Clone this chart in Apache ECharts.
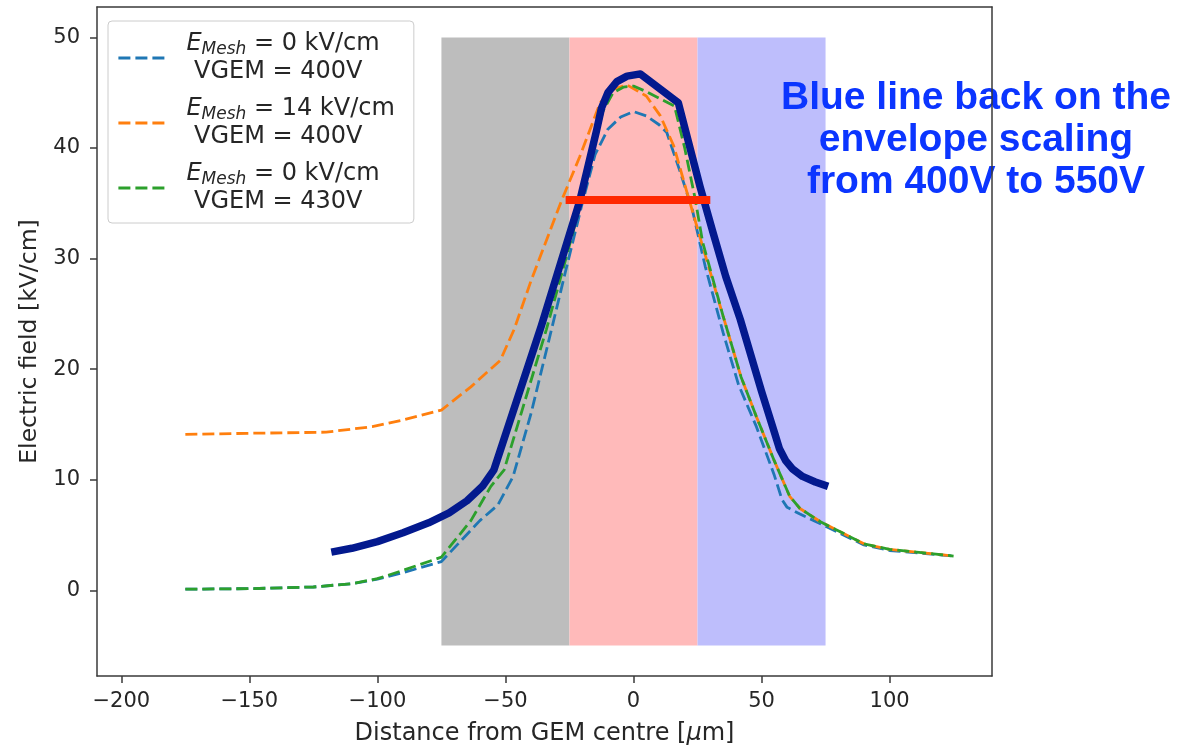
<!DOCTYPE html>
<html>
<head>
<meta charset="utf-8">
<script src="https://cdn.jsdelivr.net/npm/echarts@6/dist/echarts.min.js"></script>
<style>
  html, body { margin: 0; padding: 0; background: #fff; }
  #chart { width: 1194px; height: 745px; }
</style>
</head>
<body>
<div id="chart"></div>
<script>
// Field profiles along the GEM axis (distance in µm, field in kV/cm)
const xBlue = [-175,-150,-125,-110,-100,-90,-75,-60,-53,-47,-40,-32,-27,-20,-15,-10,-5,0,5,10,13,18,23,28,35,41,48,55,58,60,65,75,90,100,125];
const yBlue = [0.1,0.15,0.3,0.6,1.0,1.6,2.6,6.3,7.7,10.3,16,23.6,28.4,35,39.4,41.7,42.8,43.3,42.9,42.1,41.4,38,34.4,29.3,23.3,18.6,14.8,10.4,8.2,7.5,6.9,5.8,4.1,3.6,3.1];

const xOrange = [-175,-150,-120,-102,-90,-75,-63.5,-52,-46.6,-40,-28,-21,-13,-8,-2.5,5,10.5,15.7,21,27.4,35,42,48,55,61,65,73,90,100,125];
const yOrange = [14.1,14.2,14.3,14.8,15.4,16.3,18.4,20.8,23.6,28,35.3,39.2,44.1,45.3,45.7,44.7,42.9,40.2,35.9,30.8,24.8,19.3,15.7,11.7,8.5,7.4,6.2,4.2,3.7,3.1];

const xGreen = [-175,-150,-125,-110,-100,-90,-75,-63.5,-55.7,-50.5,-42.7,-34,-27,-20,-15,-12,-8,-4,0,5,10,16,20,24,27,35,42,48,55,61,65,73,90,100,125];
const yGreen = [0.1,0.15,0.3,0.6,1.05,1.8,3.0,6.3,9.4,10.9,16.9,23.6,29.5,35.5,40.5,43.3,45,45.5,45.6,45.1,44.5,43.8,40,35.5,31.5,24.8,19.3,15.7,11.7,8.5,7.4,6.2,4.2,3.7,3.1];

// Hand-drawn envelope for the scaled profile
const xEnvelope = [-118,-110,-100,-90,-80,-72,-65,-59,-54.5,-36,-21,-14.5,-12.5,-10,-6.5,-2.5,2.7,17.5,26,31,36,41.7,50,55,57,59.5,62,66,71,76];
const yEnvelope = [3.45,3.8,4.4,5.2,6.1,7.0,8.1,9.4,10.9,23.9,35.2,41.5,43.6,45.0,46.0,46.5,46.7,44.1,36.5,32.4,28.4,24.5,18,14.3,12.8,11.7,11,10.3,9.8,9.4];

// Reference level line
const xLevel = [-26.5, 30];
const yLevel = [35.3, 35.3];

// Shaded electrode / hole regions
const regionBounds = [[-75, -25], [-25, 25], [25, 75]];
const regionColors = ['#bdbdbd', '#ffbaba', '#bebefc'];
const regionYRange = [-5, 50];

const seriesNames = ['EMesh = 0 kV/cm, VGEM = 400V', 'EMesh = 14 kV/cm, VGEM = 400V', 'EMesh = 0 kV/cm, VGEM = 430V'];
const legendMesh = ['0', '14', '0'];
const legendVgem = ['400V', '400V', '430V'];
const seriesColors = ['#1f77b4', '#ff7f0e', '#2ca02c'];

const xTicks = [-200, -150, -100, -50, 0, 50, 100];
const yTicks = [0, 10, 20, 30, 40, 50];

const annotationLines = ['Blue line back on the', 'envelope scaling', 'from 400V to 550V'];

const zip = (xs, ys) => xs.map((x, i) => [x, ys[i]]);
const fmtMinus = v => (v < 0 ? '\u2212' + Math.abs(v) : String(v));

const FONT = 'DejaVu Sans';
const TXT = '#262626';
const SPINE = '#3a3a3a';

const dashed = (color) => ({ color: color, width: 2.8, type: [12, 5] });

const chart = echarts.init(document.getElementById('chart'), null, { renderer: 'canvas' });

const dataSeries = [[xBlue, yBlue], [xOrange, yOrange], [xGreen, yGreen]].map((xy, i) => ({
  name: seriesNames[i],
  type: 'line',
  data: zip(xy[0], xy[1]),
  symbol: 'none',
  showSymbol: false,
  z: 2,
  color: seriesColors[i],
  lineStyle: dashed(seriesColors[i])
}));

const option = {
  animation: false,
  backgroundColor: '#ffffff',
  textStyle: { fontFamily: FONT },
  grid: { left: 97, right: 202, top: 7, bottom: 69, containLabel: false, outerBoundsMode: 'none' },
  xAxis: [{
    type: 'value',
    min: -209.5, max: 140,
    position: 'bottom',
    name: 'Distance from GEM centre [{i|\u03bc}m]',
    nameLocation: 'middle',
    nameGap: 46,
    nameTextStyle: {
      fontFamily: FONT, fontSize: 24, color: TXT,
      rich: { i: { fontFamily: FONT, fontSize: 24, fontStyle: 'italic', color: TXT } }
    },
    splitLine: { show: false },
    axisLine: { show: true, onZero: false, lineStyle: { color: SPINE, width: 1.5 } },
    axisTick: { show: true, customValues: xTicks, length: 7, lineStyle: { color: SPINE, width: 1.5 } },
    axisLabel: { customValues: xTicks, formatter: fmtMinus, fontFamily: FONT, fontSize: 21, color: TXT, margin: 15 },
    z: 10
  }, {
    type: 'value',
    min: -209.5, max: 140,
    position: 'top',
    splitLine: { show: false },
    axisLine: { show: true, onZero: false, lineStyle: { color: SPINE, width: 1.5 } },
    axisTick: { show: false },
    axisLabel: { show: false },
    z: 10
  }],
  yAxis: [{
    type: 'value',
    min: -7.75, max: 52.75,
    position: 'left',
    name: 'Electric field [kV/cm]',
    nameLocation: 'middle',
    nameGap: 41,
    nameTextStyle: { fontFamily: FONT, fontSize: 23.5, color: TXT },
    splitLine: { show: false },
    axisLine: { show: true, onZero: false, lineStyle: { color: SPINE, width: 1.5 } },
    axisTick: { show: true, customValues: yTicks, length: 7, lineStyle: { color: SPINE, width: 1.5 } },
    axisLabel: { customValues: yTicks, formatter: fmtMinus, fontFamily: FONT, fontSize: 21, color: TXT, margin: 17 },
    z: 10
  }, {
    type: 'value',
    min: -7.75, max: 52.75,
    position: 'right',
    splitLine: { show: false },
    axisLine: { show: true, onZero: false, lineStyle: { color: SPINE, width: 1.5 } },
    axisTick: { show: false },
    axisLabel: { show: false },
    z: 10
  }],
  legend: {
    data: seriesNames,
    orient: 'vertical',
    left: 108,
    top: 21,
    padding: [9, 19, 7, 9],
    itemWidth: 48,
    itemHeight: 14,
    itemGap: 9,
    backgroundColor: 'rgba(255,255,255,0.85)',
    borderColor: '#cccccc',
    borderWidth: 1,
    borderRadius: 4,
    z: 8,
    itemStyle: { opacity: 0 },
    lineStyle: { width: 2.8, type: [12, 5] },
    formatter: function (name) {
      const i = seriesNames.indexOf(name);
      return '{e|E}{s|Mesh} = ' + legendMesh[i] + ' kV/cm\n VGEM = ' + legendVgem[i];
    },
    textStyle: {
      fontFamily: FONT, fontSize: 24, color: TXT, lineHeight: 28,
      padding: [0, 0, 0, 15],
      rich: {
        e: { fontFamily: FONT, fontSize: 24, fontStyle: 'italic', color: TXT, lineHeight: 28 },
        s: { fontFamily: FONT, fontSize: 17, fontStyle: 'italic', color: TXT, lineHeight: 17, verticalAlign: 'bottom' }
      }
    }
  },
  graphic: [{
    type: 'text',
    x: 976,
    y: 77,
    z: 5,
    silent: true,
    style: {
      text: annotationLines.join('\n'),
      fontFamily: 'Liberation Sans',
      fontWeight: 'bold',
      fontSize: 39,
      lineHeight: 42,
      fill: '#0b35ff',
      align: 'center',
      verticalAlign: 'top'
    }
  }],
  series: [
    {
      name: 'regions',
      type: 'line',
      data: [],
      z: 1,
      silent: true,
      markArea: {
        silent: true,
        data: regionBounds.map((b, i) => [
          { xAxis: b[0], yAxis: regionYRange[0], itemStyle: { color: regionColors[i], opacity: 1 } },
          { xAxis: b[1], yAxis: regionYRange[1] }
        ])
      }
    },
    ...dataSeries,
    {
      name: 'envelope',
      type: 'line',
      data: zip(xEnvelope, yEnvelope),
      symbol: 'none',
      z: 3,
      lineStyle: { color: '#03198e', width: 7.5, join: 'round', cap: 'butt' }
    },
    {
      name: 'level',
      type: 'line',
      data: zip(xLevel, yLevel),
      symbol: 'none',
      z: 4,
      lineStyle: { color: '#ff2800', width: 8, cap: 'butt' }
    }
  ]
};

chart.setOption(option);
</script>
</body>
</html>
